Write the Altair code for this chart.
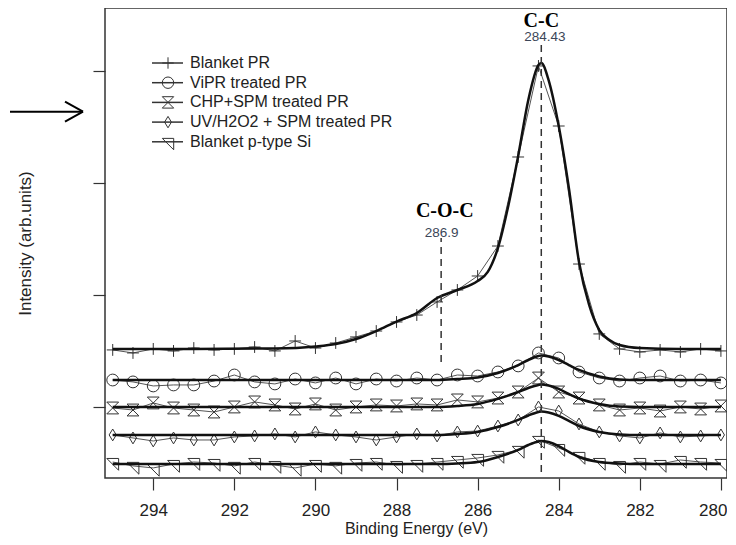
import altair as alt
import pandas as pd

series_names = ["Blanket PR", "ViPR treated PR", "CHP+SPM treated PR",
                "UV/H2O2 + SPM treated PR", "Blanket p-type Si"]

# raw spectra (binding energy, eV) with markers
raw_energy = [295.0, 294.5, 294.0, 293.5, 293.0, 292.5, 292.0, 291.5, 291.0, 290.5,
              290.0, 289.5, 289.0, 288.5, 288.0, 287.5, 287.0, 286.5, 286.0, 285.5,
              285.0, 284.5, 284.0, 283.5, 283.0, 282.5, 282.0, 281.5, 281.0, 280.5, 280.0]
raw_blanket_pr = [1510, 1483, 1519, 1501, 1527, 1510, 1519, 1536, 1501, 1590,
                  1527, 1572, 1626, 1679, 1760, 1822, 1939, 2046, 2171, 2439,
                  3235, 4049, 3512, 2278, 1653, 1519, 1492, 1510, 1492, 1519, 1501]
raw_vipr = [1241, 1224, 1188, 1197, 1197, 1232, 1286, 1224, 1206, 1250,
            1215, 1259, 1206, 1250, 1232, 1259, 1241, 1286, 1277, 1313,
            1367, 1483, 1438, 1313, 1259, 1232, 1259, 1277, 1232, 1241, 1215]
raw_chp = [991, 973, 1036, 991, 973, 955, 1000, 1045, 1018, 982,
           1027, 973, 1000, 1018, 1009, 1027, 1018, 1063, 1045, 1080,
           1134, 1259, 1134, 1080, 1018, 973, 991, 964, 1000, 982, 1009]
raw_uv = [750, 723, 696, 723, 705, 705, 732, 741, 759, 732,
          777, 750, 732, 705, 732, 759, 741, 777, 785, 830,
          884, 1000, 964, 848, 777, 741, 723, 768, 732, 741, 750]
raw_si = [508, 473, 455, 490, 508, 499, 473, 508, 481, 455,
          490, 473, 499, 508, 481, 490, 508, 526, 544, 571,
          616, 705, 633, 562, 508, 481, 508, 490, 526, 508, 499]

# fitted envelopes
fit_energy_pr = [295.0, 293.0, 291.0, 290.0, 289.5, 289.0, 288.5, 288.0, 287.5, 287.0,
                 286.5, 286.0, 285.75, 285.5, 285.25, 285.0, 284.75, 284.5, 284.43, 284.25,
                 284.0, 283.75, 283.5, 283.25, 283.0, 282.75, 282.5, 282.0, 281.0, 280.0]
fit_blanket_pr = [1519, 1519, 1523, 1541, 1563, 1608, 1679, 1764, 1840, 1974,
                  2046, 2126, 2207, 2421, 2788, 3244, 3745, 4057, 4075, 3923,
                  3512, 2958, 2296, 1912, 1688, 1599, 1554, 1527, 1519, 1519]
fit_energy_small = [295.0, 290.0, 287.0, 286.5, 286.0, 285.5, 285.0, 284.75, 284.5, 284.43,
                    284.25, 284.0, 283.75, 283.5, 283.0, 282.5, 282.0, 280.0]
fit_vipr = [1241, 1241, 1241, 1250, 1264, 1304, 1375, 1420, 1456, 1460,
            1451, 1420, 1375, 1331, 1273, 1246, 1241, 1241]
fit_chp = [1000, 1000, 1000, 1009, 1027, 1072, 1134, 1170, 1197, 1201,
           1192, 1161, 1116, 1076, 1027, 1004, 1000, 1000]
fit_uv = [750, 750, 750, 759, 777, 821, 884, 924, 955, 960,
          951, 920, 875, 830, 777, 755, 750, 750]
fit_si = [490, 490, 490, 495, 508, 553, 616, 660, 692, 696,
          687, 651, 598, 553, 508, 495, 490, 490]

peak_energy = [284.43, 286.9]
peak_names = ["C-C", "C-O-C"]
peak_labels = ["284.43", "286.9"]

x_ticks = [294, 292, 290, 288, 286, 284, 282, 280]
y_ticks = [1000, 2000, 3000, 4000]

# ---- tables ----
raw_sets = [raw_blanket_pr, raw_vipr, raw_chp, raw_uv, raw_si]
raw_df = pd.DataFrame([
    {"series": n, "E": e, "I": v}
    for n, vals in zip(series_names, raw_sets)
    for e, v in zip(raw_energy, vals)
])
fit_sets = [(fit_energy_pr, fit_blanket_pr), (fit_energy_small, fit_vipr),
            (fit_energy_small, fit_chp), (fit_energy_small, fit_uv),
            (fit_energy_small, fit_si)]
fit_df = pd.DataFrame([
    {"series": n, "E": e, "I": v}
    for n, (es, vals) in zip(series_names, fit_sets)
    for e, v in zip(es, vals)
])

shape_paths = [
    "M-1,0L1,0M0,-1L0,1",
    "circle",
    "M-1,-1L1,-1L-1,1L1,1Z",
    "M0,-1L0.6,0L0,1L-0.6,0Z",
    "M-1,-0.6L1,-0.6L1,1.4Z",
]
shape_scale = alt.Scale(domain=series_names, range=shape_paths)

xscale = alt.Scale(domain=[295.19, 279.85], nice=False, zero=False)
yscale = alt.Scale(domain=[365, 4567], nice=False, zero=False)

X = alt.X("E:Q", scale=xscale,
          axis=alt.Axis(values=x_ticks, format="d", labelPadding=12,
                        labelFlush=8, labelFlushOffset=6,
                        title="Binding Energy (eV)", titleY=55,
                        titleBaseline="alphabetic", titleFontSize=16))
Y = alt.Y("I:Q", scale=yscale,
          axis=alt.Axis(values=y_ticks, labels=False, title="Intensity (arb.units)",
                        titleX=-80, titleY=235, titleAngle=270, titleAlign="center",
                        titleBaseline="middle", titleFontSize=17))

raw_line = alt.Chart(raw_df).mark_line(color="#555", strokeWidth=1).encode(
    x=X, y=Y, detail="series:N")
markers = alt.Chart(raw_df).mark_point(filled=False, size=140, strokeWidth=1,
                                       color="#333", opacity=1).encode(
    x=X, y=Y, shape=alt.Shape("series:N", scale=shape_scale, legend=None))
fit_line = alt.Chart(fit_df).mark_line(color="#111", strokeWidth=2.5,
                                       interpolate="monotone").encode(
    x=X, y=Y, detail="series:N")

# dashed peak guides
guide_df = pd.DataFrame({"E": peak_energy, "y1": [419, 1402], "y2": [4245, 2511]})
guides = alt.Chart(guide_df).mark_rule(color="#333", strokeWidth=1.5,
                                       strokeDash=[7, 5]).encode(
    x=X, y=alt.Y("y1:Q", scale=yscale), y2="y2:Q")

name_df = pd.DataFrame({"E": [284.43, 286.81], "I": [4400, 2699], "t": peak_names})
names = alt.Chart(name_df).mark_text(font="Liberation Serif", fontWeight="bold",
                                     fontSize=20, color="#000", align="center",
                                     baseline="alphabetic").encode(
    x=X, y=Y, text="t:N")
val_df = pd.DataFrame({"E": [284.34, 286.89], "I": [4268, 2520], "t": peak_labels})
vals = alt.Chart(val_df).mark_text(font="Liberation Sans", fontSize=13.5,
                                   color="#3c4658", align="center",
                                   baseline="alphabetic").encode(
    x=X, y=Y, text="t:N")

main = alt.layer(raw_line, markers, fit_line, guides, names, vals)

# ---- legend (pixel positions) ----
leg_df = pd.DataFrame({"series": series_names, "k": list(range(len(series_names)))})
leg_base = alt.Chart(leg_df).transform_calculate(
    ly="55 + 19.7 * datum.k", lx1="47", lx2="78", mx="63", tx="85")
leg_line = leg_base.mark_rule(color="#333", strokeWidth=1.5).encode(
    x=alt.X("lx1:Q", scale=None, axis=None), x2="lx2:Q",
    y=alt.Y("ly:Q", scale=None, axis=None))
leg_mark = leg_base.mark_point(filled=False, size=130, strokeWidth=1,
                               color="#333", opacity=1).encode(
    x=alt.X("mx:Q", scale=None, axis=None),
    y=alt.Y("ly:Q", scale=None, axis=None),
    shape=alt.Shape("series:N", scale=shape_scale, legend=None))
leg_text = leg_base.mark_text(align="left", baseline="middle", font="Liberation Sans",
                              fontSize=16, color="#222").encode(
    x=alt.X("tx:Q", scale=None, axis=None),
    y=alt.Y("ly:Q", scale=None, axis=None), text="series:N")

# arrow at left (outside plot)
one = pd.DataFrame({"a": [0]})
arrow_shaft = alt.Chart(one).mark_rule(color="#000", strokeWidth=2).encode(
    x=alt.value(-95), x2=alt.value(-22), y=alt.value(103.7))
arrow_up = alt.Chart(one).mark_rule(color="#000", strokeWidth=2).encode(
    x=alt.value(-40), y=alt.value(93.7), x2=alt.value(-22), y2=alt.value(103.7))
arrow_dn = alt.Chart(one).mark_rule(color="#000", strokeWidth=2).encode(
    x=alt.value(-40), y=alt.value(113.7), x2=alt.value(-22), y2=alt.value(103.7))

legend = alt.layer(leg_line, leg_mark, leg_text, arrow_shaft, arrow_up, arrow_dn)

chart = alt.layer(main, legend).resolve_scale(
    x="independent", y="independent"
).properties(
    width=622, height=470,
    autosize=alt.AutoSizeParams(type="none"),
    padding={"left": 97, "top": 0, "right": 0, "bottom": 60},
).configure_view(
    stroke="#333", strokeWidth=1.5
).configure_axis(
    domain=False, grid=False, tickColor="#333", tickWidth=1.2, tickSize=12,
    labelFont="Liberation Sans", labelFontSize=17, labelColor="#222",
    titleFont="Liberation Sans", titleFontWeight="normal", titleColor="#222",
)

chart.save("out.html", embed_options={"renderer": "svg", "actions": False})
